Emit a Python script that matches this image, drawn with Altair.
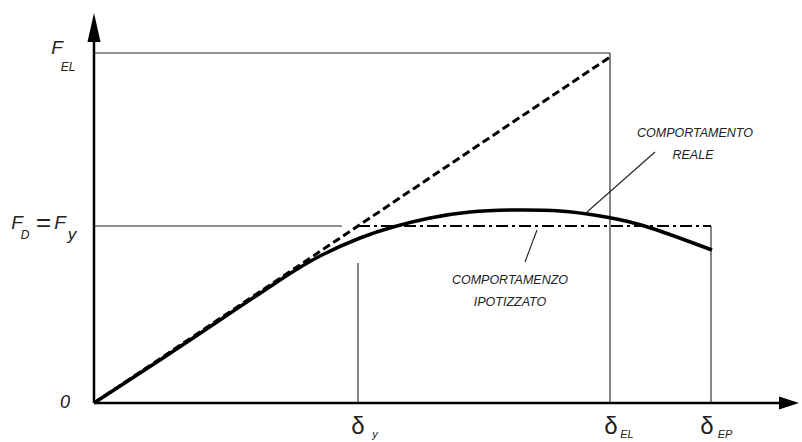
import altair as alt
import pandas as pd

# ---- data (arbitrary units) ----
d_y, d_el, d_ep = 2.64, 5.16, 6.17
f_y, f_el = 1.77, 3.50

curve_x = [0.00, 0.66, 1.26, 1.86, 2.26, 2.66, 2.99, 3.36, 3.76, 4.19, 4.66, 5.06, 5.36, 5.63, 5.91, 6.18]
curve_y = [0.00, 0.43, 0.83, 1.23, 1.47, 1.65, 1.76, 1.85, 1.91, 1.93, 1.92, 1.87, 1.81, 1.73, 1.63, 1.53]

elastic_x = [0.0, 5.16]
elastic_y = [0.0, 3.46]

plastic_x = [d_y, d_ep]
plastic_y = [f_y, f_y]

axis_x_end = 6.96
axis_y_end = 3.80

X = alt.Scale(domain=[-0.94, 7.08], nice=False, zero=False)
Y = alt.Scale(domain=[-0.39, 4.03], nice=False, zero=False)


def seg_df(segs):
    rows = []
    for i, (x1, y1, x2, y2) in enumerate(segs):
        rows.append({"x": x1, "y": y1, "x2": x2, "y2": y2, "id": i})
    return pd.DataFrame(rows)


def rules(segs, width, color="black", dash=None):
    kw = dict(strokeWidth=width, color=color)
    if dash:
        kw["strokeDash"] = dash
    return alt.Chart(seg_df(segs)).mark_rule(**kw).encode(
        x=alt.X("x:Q", scale=X, axis=None),
        y=alt.Y("y:Q", scale=Y, axis=None),
        x2="x2:Q", y2="y2:Q")


# thin reference lines
thin = rules([
    (0, f_el, d_el, f_el),
    (d_el, 0, d_el, f_el),
    (0, f_y, 2.48, f_y),
    (d_y, 0, d_y, 1.40),
    (d_ep, 0, d_ep, f_y),
    (4.93, 1.91, 5.61, 2.51),
    (4.43, 1.73, 4.31, 1.41),
], 1.1, color="#222")

axes = rules([
    (0, 0, axis_x_end, 0),
    (0, 0, 0, axis_y_end),
], 2.5)

elastic = alt.Chart(pd.DataFrame({"x": elastic_x, "y": elastic_y})).mark_line(
    color="black", strokeWidth=3, strokeDash=[8, 4]).encode(
    x=alt.X("x:Q", scale=X, axis=None), y=alt.Y("y:Q", scale=Y, axis=None))

plastic = alt.Chart(pd.DataFrame({"x": plastic_x, "y": plastic_y})).mark_line(
    color="black", strokeWidth=2, strokeDash=[12, 4, 3, 4]).encode(
    x=alt.X("x:Q", scale=X, axis=None), y=alt.Y("y:Q", scale=Y, axis=None))

curve = alt.Chart(pd.DataFrame({"x": curve_x, "y": curve_y, "o": range(len(curve_x))})).mark_line(
    color="black", strokeWidth=3.5, interpolate="natural").encode(
    x=alt.X("x:Q", scale=X, axis=None), y=alt.Y("y:Q", scale=Y, axis=None), order="o:Q")

arrow_up = alt.Chart(pd.DataFrame({"x": [0.0], "y": [3.755]})).mark_point(
    shape="M0,-1L0.45,1L-0.45,1Z", size=841, filled=True, color="black", opacity=1).encode(
    x=alt.X("x:Q", scale=X, axis=None), y=alt.Y("y:Q", scale=Y, axis=None))
arrow_right = alt.Chart(pd.DataFrame({"x": [6.95], "y": [0.0]})).mark_point(
    shape="M1,0L-1,0.65L-1,-0.65Z", size=400, filled=True, color="black", opacity=1).encode(
    x=alt.X("x:Q", scale=X, axis=None), y=alt.Y("y:Q", scale=Y, axis=None))

# text labels
lab_text = ["F", "EL", "F", "D", "=", "F", "y", "0",
            "COMPORTAMENTO", "REALE", "COMPORTAMENZO", "IPOTIZZATO"]
lab_x = [-0.37, -0.26, -0.77, -0.69, -0.51, -0.34, -0.22, -0.29,
         6.01, 5.99, 4.16, 4.16]
lab_y = [3.55, 3.36, 1.80, 1.68, 1.80, 1.80, 1.68, 0.00,
         2.70, 2.48, 1.23, 1.01]
lab_size = [19, 12, 19, 12, 26, 19, 17, 18, 12.5, 12.5, 12.5, 12.5]

labels = alt.Chart(pd.DataFrame({"t": lab_text, "x": lab_x, "y": lab_y, "s": lab_size})).mark_text(
    font="Liberation Sans", fontStyle="italic", color="#222", align="center", baseline="middle").encode(
    x=alt.X("x:Q", scale=X, axis=None), y=alt.Y("y:Q", scale=Y, axis=None),
    text="t:N", size=alt.Size("s:Q", scale=None, legend=None))

delta_text = ["δ", "δ", "δ"]
delta_x = [2.64, 5.17, 6.13]
delta_y = [-0.24, -0.24, -0.24]
deltas = alt.Chart(pd.DataFrame({"t": delta_text, "x": delta_x, "y": delta_y})).mark_text(
    font="Liberation Sans", fontSize=24, color="#222", align="center", baseline="middle").encode(
    x=alt.X("x:Q", scale=X, axis=None), y=alt.Y("y:Q", scale=Y, axis=None), text="t:N")

sub_text = ["y", "EL", "EP"]
sub_x = [2.81, 5.33, 6.31]
sub_y = [-0.32, -0.32, -0.32]
subs = alt.Chart(pd.DataFrame({"t": sub_text, "x": sub_x, "y": sub_y})).mark_text(
    font="Liberation Sans", fontStyle="italic", fontSize=11, color="#222", align="center", baseline="middle").encode(
    x=alt.X("x:Q", scale=X, axis=None), y=alt.Y("y:Q", scale=Y, axis=None), text="t:N")

chart = alt.layer(thin, elastic, plastic, curve, axes, arrow_up, arrow_right,
                  labels, deltas, subs).properties(
    width=802, height=442, padding=0, autosize=alt.AutoSizeParams(type="none"),
    background="white").configure_view(stroke=None)

chart.save("out.html", embed_options={"renderer": "svg", "actions": False})
